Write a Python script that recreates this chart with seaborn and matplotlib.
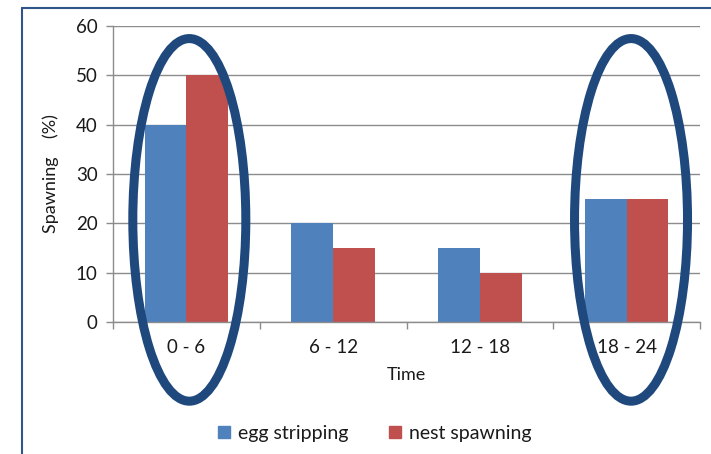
import matplotlib
matplotlib.use("Agg")
import matplotlib.pyplot as plt
import seaborn as sns
import pandas as pd
from matplotlib.patches import Ellipse
from matplotlib.lines import Line2D

categories = ["0 - 6", "6 - 12", "12 - 18", "18 - 24"]
egg_stripping = [40, 20, 15, 25]
nest_spawning = [50, 15, 10, 25]
series_names = ["egg stripping", "nest spawning"]
yticks = [0, 10, 20, 30, 40, 50, 60]

df = pd.DataFrame({
    "Time": categories * 2,
    "value": egg_stripping + nest_spawning,
    "series": [series_names[0]] * 4 + [series_names[1]] * 4,
})

sns.set_style("white")
plt.rcParams["font.family"] = ["Lato", "DejaVu Sans"]

fig = plt.figure(figsize=(7.11, 4.54), dpi=100)
ax = fig.add_axes([113 / 711, 1 - 322 / 454, (700 - 113) / 711, (322 - 26) / 454])

palette = {series_names[0]: "#4F81BD", series_names[1]: "#C0504D"}
sns.barplot(data=df, x="Time", y="value", hue="series", order=categories,
            hue_order=series_names, palette=palette, width=0.57,
            saturation=1, ax=ax, legend=False, zorder=2, linewidth=0)

txt = "#1a1a1a"
ax.set_ylim(0, 60)
ax.set_xlim(-0.5, 3.5)
ax.set_yticks(yticks)
ax.set_yticklabels([str(t) for t in yticks], fontsize=13.5, color=txt)
ax.yaxis.grid(True, color="#8c8c8c", lw=1)
ax.set_axisbelow(True)
for s in ["top", "right"]:
    ax.spines[s].set_visible(False)
for s in ["left", "bottom"]:
    ax.spines[s].set_color("#8c8c8c")
    ax.spines[s].set_linewidth(1)
ax.tick_params(axis="y", length=5, color="#8c8c8c", width=1, pad=6, left=True)
ax.set_xticks(range(len(categories)))
ax.set_xticklabels(categories, fontsize=13.5, color=txt)
ax.tick_params(axis="x", length=0, pad=12)
ax.set_xticks([-0.5, 0.5, 1.5, 2.5, 3.5], minor=True)
ax.tick_params(axis="x", which="minor", length=5, color="#8c8c8c", width=1, bottom=True)

ax.set_xlabel("Time", fontsize=13, color=txt, labelpad=8)
ax.set_ylabel("Spawning    (%)", fontsize=13, color=txt, labelpad=12)

for cx in [0.02, 3.03]:
    e = Ellipse((cx, 20.7), width=0.77, height=73.5, fill=False,
                edgecolor="#1F497D", lw=6.5, clip_on=False, zorder=5)
    ax.add_patch(e)

handles = [Line2D([], [], marker="s", linestyle="none", markersize=9,
                  markerfacecolor=palette[n], markeredgecolor=palette[n], label=n)
           for n in series_names]
fig.legend(handles=handles, loc="center", bbox_to_anchor=(0.523, 1 - 433 / 454),
           ncol=2, frameon=False, fontsize=14, handletextpad=0.1, columnspacing=1.8,
           labelcolor=txt, handlelength=1.2)

border = "#2f558a"
fig.add_artist(Line2D([22 / 711, 22 / 711], [0, 1 - 8 / 454], transform=fig.transFigure,
                      color=border, lw=1.5))
fig.add_artist(Line2D([22 / 711, 1], [1 - 8 / 454, 1 - 8 / 454], transform=fig.transFigure,
                      color=border, lw=1.5))

fig.savefig("out.png", dpi=100)
